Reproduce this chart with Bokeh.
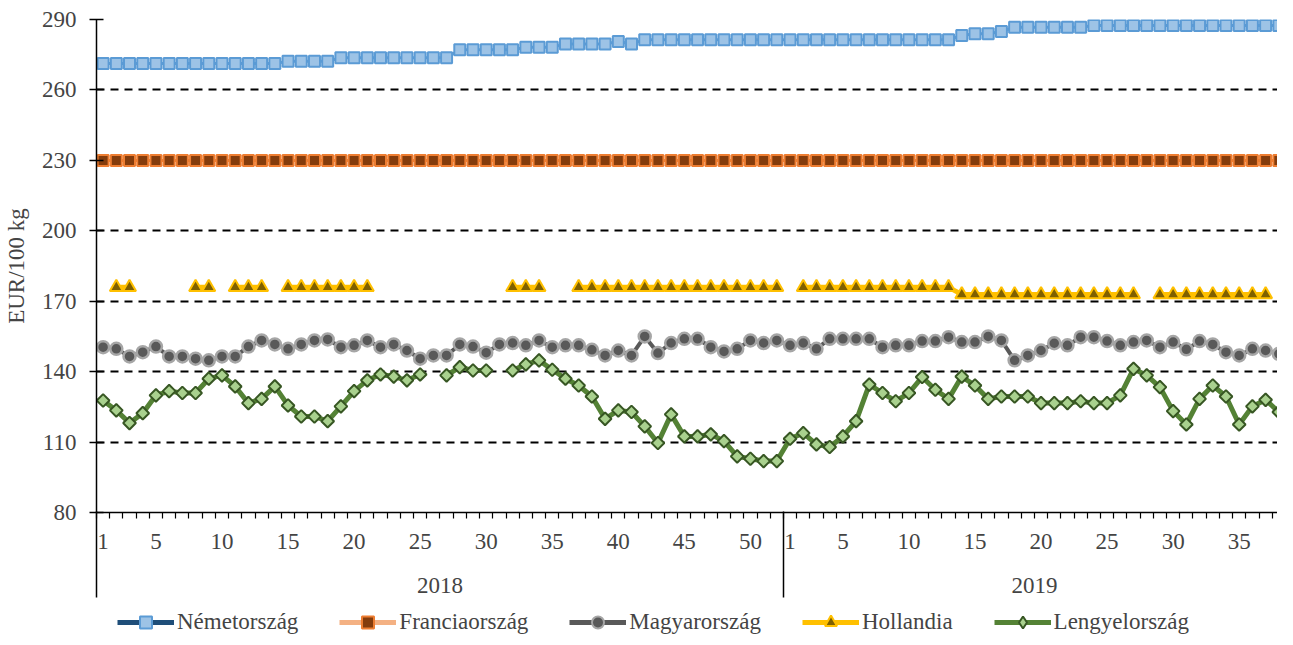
import numpy as np
from bokeh.plotting import figure
from bokeh.layouts import column
from bokeh.models import (ColumnDataSource, Range1d, LinearAxis, FixedTicker, Legend,
                          LegendItem, Grid)
from bokeh.embed import file_html
from bokeh.resources import INLINE

nan = float("nan")

# ---------------- data ----------------
years = ["2018", "2019"]
weeks_2018 = list(range(1, 53))
weeks_2019 = list(range(1, 39))
label_weeks_2018 = [1, 5, 10, 15, 20, 25, 30, 35, 40, 45, 50]
label_weeks_2019 = [1, 5, 10, 15, 20, 25, 30, 35]
y_ticks = [80, 110, 140, 170, 200, 230, 260, 290]

nemet_2018 = [271.3, 271.3, 271.3, 271.3, 271.3, 271.3, 271.3, 271.3, 271.3, 271.3,
              271.3, 271.3, 271.3, 271.3, 272.2, 272.2, 272.2, 272.2, 273.7, 273.7,
              273.7, 273.7, 273.7, 273.7, 273.7, 273.7, 273.7, 277.1, 277.1, 277.1,
              277.1, 277.1, 278.2, 278.2, 278.2, 279.6, 279.6, 279.6, 279.6, 280.6,
              279.6, 281.4, 281.4, 281.4, 281.4, 281.4, 281.4, 281.4, 281.4, 281.4,
              281.4, 281.4]
nemet_2019 = [281.4, 281.4, 281.4, 281.4, 281.4, 281.4, 281.4, 281.4, 281.4, 281.4,
              281.4, 281.4, 281.4, 283.2, 283.9, 283.9, 284.9, 286.7, 286.7, 286.7,
              286.7, 286.7, 286.7, 287.4, 287.4, 287.4, 287.4, 287.4, 287.4, 287.4,
              287.4, 287.4, 287.4, 287.4, 287.4, 287.4, 287.4, 287.4]

franc_2018 = [229.9, 229.9, 229.9, 229.9, 229.9, 229.9, 229.9, 229.9, 229.9, 229.9,
              229.9, 229.9, 229.9, 229.9, 229.9, 229.9, 229.9, 229.9, 229.9, 229.9,
              229.9, 229.9, 229.9, 229.9, 229.9, 229.9, 229.9, 229.9, 229.9, 229.9,
              229.9, 229.9, 229.9, 229.9, 229.9, 229.9, 229.9, 229.9, 229.9, 229.9,
              229.9, 229.9, 229.9, 229.9, 229.9, 229.9, 229.9, 229.9, 229.9, 229.9,
              229.9, 229.9]
franc_2019 = [229.9, 229.9, 229.9, 229.9, 229.9, 229.9, 229.9, 229.9, 229.9, 229.9,
              229.9, 229.9, 229.9, 229.9, 229.9, 229.9, 229.9, 229.9, 229.9, 229.9,
              229.9, 229.9, 229.9, 229.9, 229.9, 229.9, 229.9, 229.9, 229.9, 229.9,
              229.9, 229.9, 229.9, 229.9, 229.9, 229.9, 229.9, 229.9]

magyar_2018 = [150.4, 149.7, 146.5, 148.3, 150.7, 146.5, 146.5, 145.5, 144.8, 146.5,
               146.5, 150.7, 153.3, 151.6, 149.7, 151.6, 153.3, 153.7, 150.4, 151.2,
               153.3, 150.4, 151.6, 149.0, 145.5, 146.9, 146.9, 151.6, 150.7, 148.1,
               151.6, 152.2, 151.2, 153.3, 150.4, 151.2, 151.2, 149.3, 146.9, 149.0,
               146.9, 155.0, 147.9, 152.2, 154.0, 154.0, 150.4, 148.6, 149.7, 153.3,
               152.2, 153.3]
magyar_2019 = [151.2, 152.2, 149.7, 154.0, 154.0, 154.0, 154.0, 150.4, 151.2, 151.2,
               153.0, 153.0, 154.7, 152.6, 152.6, 155.0, 153.3, 144.8, 146.9, 149.0,
               152.1, 151.2, 154.7, 154.7, 153.0, 151.2, 152.6, 153.3, 150.4, 152.6,
               149.5, 153.0, 151.6, 148.3, 146.9, 149.7, 149.0, 147.6]

holl_2018 = [nan, 175.9, 175.9, nan, nan, nan, nan, 175.9, 175.9, nan,
             175.9, 175.9, 175.9, nan, 175.9, 175.9, 175.9, 175.9, 175.9, 175.9,
             175.9, nan, nan, nan, nan, nan, nan, nan, nan, nan,
             nan, 175.9, 175.9, 175.9, nan, nan, 175.9, 175.9, 175.9, 175.9,
             175.9, 175.9, 175.9, 175.9, 175.9, 175.9, 175.9, 175.9, 175.9, 175.9,
             175.9, 175.9]
holl_2019 = [nan, 175.9, 175.9, 175.9, 175.9, 175.9, 175.9, 175.9, 175.9, 175.9,
             175.9, 175.9, 175.9, 172.9, 172.9, 172.9, 172.9, 172.9, 172.9, 172.9,
             172.9, 172.9, 172.9, 172.9, 172.9, 172.9, 172.9, nan, 172.9, 172.9,
             172.9, 172.9, 172.9, 172.9, 172.9, 172.9, 172.9, nan]

lengy_2018 = [127.7, 123.5, 118.1, 122.3, 129.9, 131.7, 130.9, 130.9, 137.0, 138.4,
              133.7, 126.6, 128.4, 133.7, 125.6, 120.9, 120.9, 118.9, 125.2, 131.7,
              136.3, 138.8, 137.9, 136.3, 138.8, nan, 138.4, 141.9, 140.5, 140.5,
              nan, 140.5, 143.1, 144.8, 140.8, 137.0, 134.1, 129.4, 119.9, 123.5,
              122.8, 116.7, 109.6, 121.8, 112.4, 112.4, 113.3, 110.4, 103.9, 102.9,
              101.9, 101.9]
lengy_2019 = [111.4, 113.8, 109.0, 107.9, 112.4, 118.9, 134.5, 130.9, 127.4, 130.9,
              137.7, 132.3, 128.4, 137.9, 134.1, 128.4, 129.4, 129.4, 129.4, 126.6,
              126.6, 126.6, 127.4, 126.6, 126.6, 129.9, 141.2, 138.4, 133.4, 123.2,
              117.5, 128.4, 134.1, 129.4, 117.5, 125.2, 128.0, 122.8]

series_names = ["Németország", "Franciaország", "Magyarország", "Hollandia", "Lengyelország"]

# ---------------- styles ----------------
FONT = "Liberation Serif"
FS = "23px"
STYLES = [
    dict(leg_line="#1F4E79", line="#5B9BD5", lw=3, marker="square", size=11,
         fill="#9DC3E6", outline="#5B9BD5", olw=2),
    dict(leg_line="#F4B183", line="#ED7D31", lw=3, marker="square", size=11,
         fill="#843C0C", outline="#ED7D31", olw=2),
    dict(leg_line="#595959", line="#595959", lw=4, marker="circle", size=12,
         fill="#595959", outline="#A6A6A6", olw=2.5),
    dict(leg_line="#FFC000", line="#FFC000", lw=5, marker="triangle", size=13,
         fill="#7F6000", outline="#FFC000", olw=2),
    dict(leg_line="#548235", line="#548235", lw=5, marker="square", size=9,
         fill="#A9D18E", outline="#375623", olw=2),
]

n18, n19 = len(weeks_2018), len(weeks_2019)
x = np.arange(n18 + n19, dtype=float)           # category index, centre of each week
columns = ["nemet", "franc", "magyar", "holl", "lengy"]
src = ColumnDataSource(dict(
    x=x,
    nemet=np.array(nemet_2018 + nemet_2019, dtype=float),
    franc=np.array(franc_2018 + franc_2019, dtype=float),
    magyar=np.array(magyar_2018 + magyar_2019, dtype=float),
    holl=np.array(holl_2018 + holl_2019, dtype=float),
    lengy=np.array(lengy_2018 + lengy_2019, dtype=float),
))

W = 1277
p = figure(width=W, height=600, output_backend="svg", toolbar_location=None,
           x_range=Range1d(-0.5, 88.9), y_range=Range1d(y_ticks[0], y_ticks[-1]),
           x_axis_type=None, y_axis_type=None,
           min_border_left=89, min_border_right=0, min_border_top=19, min_border_bottom=88)
p.outline_line_color = None
p.background_fill_color = "white"
p.border_fill_color = "white"

# y axis + grid
yaxis = LinearAxis(ticker=FixedTicker(ticks=y_ticks),
                   axis_line_color="black", axis_line_width=1.5,
                   major_tick_in=7, major_tick_out=7, major_tick_line_width=1.5,
                   minor_tick_line_color=None,
                   major_label_text_font=FONT, major_label_text_font_size=FS,
                   major_label_standoff=13,
                   axis_label="EUR/100 kg", axis_label_text_font=FONT,
                   axis_label_text_font_size=FS, axis_label_text_font_style="normal",
                   axis_label_standoff=10)
p.add_layout(yaxis, "left")
p.add_layout(Grid(dimension=1, ticker=FixedTicker(ticks=y_ticks[1:]),
                  grid_line_color="black", grid_line_dash="8 6", grid_line_width=2))

# x axis: week labels
label_pos = [w - 1 for w in label_weeks_2018] + [n18 + w - 1 for w in label_weeks_2019]
label_txt = [str(w) for w in label_weeks_2018] + [str(w) for w in label_weeks_2019]
boundaries = list(np.arange(n18 + n19 + 1) - 0.5)
xaxis = LinearAxis(ticker=FixedTicker(ticks=label_pos, minor_ticks=boundaries),
                   major_label_overrides=dict(zip(label_pos, label_txt)),
                   axis_line_color="black", axis_line_width=1.5,
                   major_tick_in=0, major_tick_out=0,
                   minor_tick_in=0, minor_tick_out=6, minor_tick_line_width=1.2,
                   minor_tick_line_color="black",
                   major_label_text_font=FONT, major_label_text_font_size=FS,
                   major_label_standoff=15)
p.add_layout(xaxis, "below")

# x axis: year labels and year separators
year_pos = [(n18 - 1) / 2.0, n18 + (n19 - 1) / 2.0]
xaxis2 = LinearAxis(ticker=FixedTicker(ticks=year_pos, minor_ticks=[-0.5, n18 - 0.5, n18 + n19 - 0.5]),
                    major_label_overrides=dict(zip(year_pos, years)),
                    axis_line_color=None,
                    major_tick_in=0, major_tick_out=0,
                    minor_tick_in=40, minor_tick_out=46, minor_tick_line_width=1.5,
                    minor_tick_line_color="black",
                    major_label_text_font=FONT, major_label_text_font_size=FS,
                    major_label_standoff=-20)
p.add_layout(xaxis2, "below")

# ---------------- series ----------------
for col, st in zip(columns, STYLES):
    p.line("x", col, source=src, line_color=st["line"], line_width=st["lw"])
    p.scatter("x", col, source=src, marker=st["marker"], size=st["size"],
              angle=(np.pi / 4 if col == "lengy" else 0.0),
              fill_color=st["fill"], line_color=st["outline"], line_width=st["olw"])

# ---------------- legend (separate strip below the chart) ----------------
lg = figure(width=W, height=37, output_backend="svg", toolbar_location=None,
            x_range=Range1d(0, 1), y_range=Range1d(0, 1),
            x_axis_type=None, y_axis_type=None,
            min_border_left=0, min_border_right=0, min_border_top=0, min_border_bottom=0)
lg.outline_line_color = None
lg.grid.visible = False
hidden = ColumnDataSource(dict(x=[-10.0], y=[-10.0]))
items = []
for name, st in zip(series_names, STYLES):
    rl = lg.line("x", "y", source=hidden, line_color=st["leg_line"], line_width=5)
    mk = "diamond" if st["size"] == 9 else st["marker"]
    rs = lg.scatter("x", "y", source=hidden, marker=mk,
                    fill_color=st["fill"], line_color=st["outline"], line_width=2)
    items.append(LegendItem(label=name, renderers=[rl, rs]))
legend = Legend(items=items, orientation="horizontal", location=(21, 0),
                glyph_width=57, glyph_height=30, label_standoff=3, spacing=41,
                padding=0, margin=0, border_line_color=None, background_fill_alpha=0,
                label_text_font=FONT, label_text_font_size=FS)
lg.add_layout(legend, "center")

layout = column(p, lg, spacing=0)
open("out.html", "w").write(file_html(layout, INLINE))
